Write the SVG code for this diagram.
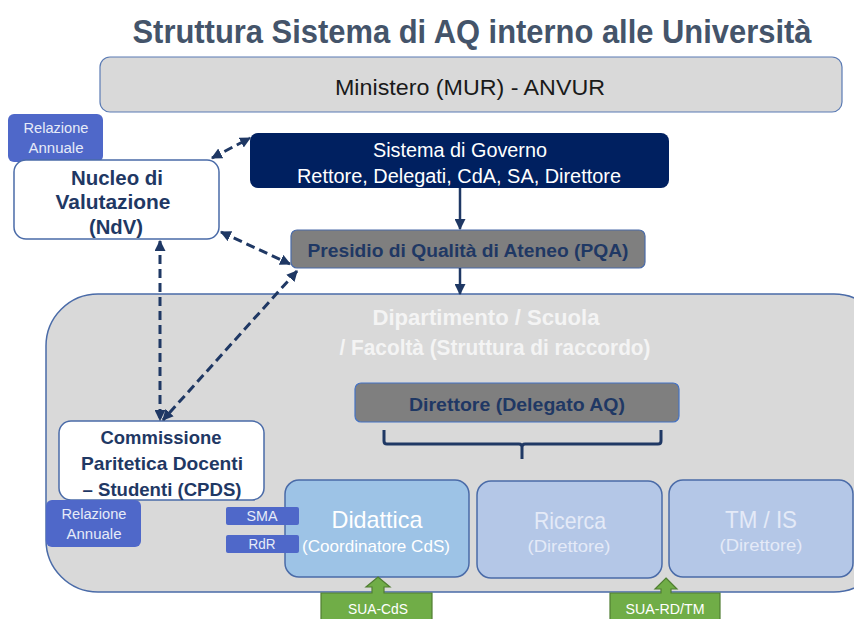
<svg xmlns="http://www.w3.org/2000/svg" width="854" height="619" viewBox="0 0 854 619">
<defs>
<marker id="ah" viewBox="0 0 10 10" markerUnits="userSpaceOnUse" markerWidth="11" markerHeight="11" refX="9" refY="5" orient="auto-start-reverse">
<path d="M0,0 L10,5 L0,10 z" fill="#1f3864"/>
</marker>
<style>
text{font-family:"Liberation Sans","Noto Sans",sans-serif;text-anchor:middle}
.navyb{fill:#1f3864;font-weight:bold}
.wt{fill:#ffffff}
.lt{fill:#e4eaf7}
.tag{fill:#4f68c9}
.tagt{fill:#e6ebf8;font-size:14px}
.dash{fill:none;stroke:#1f3864;stroke-width:3;stroke-dasharray:9 5}
.solid{fill:none;stroke:#1f3864;stroke-width:2.5}
.unit{stroke:#4a6ba8;stroke-width:1.5}
.green{fill:#70ad47;stroke:#507e32;stroke-width:1.2}
</style>
</defs>
<rect width="854" height="619" fill="#ffffff"/>

<text x="472" y="43" font-size="33" font-weight="bold" fill="#44546a" textLength="679" lengthAdjust="spacingAndGlyphs">Struttura Sistema di AQ interno alle Università</text>

<g id="ministero">
<rect x="100" y="57" width="742" height="55" rx="10" fill="#d9d9d9" stroke="#5b7bb4" stroke-width="1.2"/>
<text x="470" y="95" font-size="22" fill="#1a1a1a" textLength="270" lengthAdjust="spacingAndGlyphs">Ministero (MUR) - ANVUR</text>
</g>

<g id="dipartimento">
<rect x="46" y="294" width="840" height="298" rx="52" fill="#d9d9d9" stroke="#4a6ba8" stroke-width="1.5"/>
<text x="486" y="325" font-size="22" font-weight="bold" fill="#f4f4f4" textLength="227" lengthAdjust="spacingAndGlyphs">Dipartimento / Scuola</text>
<text x="495" y="355" font-size="22" font-weight="bold" fill="#f4f4f4" textLength="311" lengthAdjust="spacingAndGlyphs">/ Facoltà (Struttura di raccordo)</text>
</g>

<g id="relazione-ndv">
<rect class="tag" x="8" y="114" width="95" height="48" rx="6"/>
<text class="tagt" x="56" y="133" textLength="65" lengthAdjust="spacingAndGlyphs">Relazione</text>
<text class="tagt" x="56" y="153" textLength="55" lengthAdjust="spacingAndGlyphs">Annuale</text>
</g>

<g id="ndv">
<rect x="14" y="160" width="205" height="79" rx="12" fill="#ffffff" stroke="#4a6ba8" stroke-width="1.5"/>
<text class="navyb" x="117" y="185" font-size="20" textLength="92" lengthAdjust="spacingAndGlyphs">Nucleo di</text>
<text class="navyb" x="113" y="209" font-size="20" textLength="115" lengthAdjust="spacingAndGlyphs">Valutazione</text>
<text class="navyb" x="116" y="234" font-size="20" textLength="54" lengthAdjust="spacingAndGlyphs">(NdV)</text>
</g>

<g id="governo">
<rect x="250" y="133" width="419" height="55" rx="8" fill="#002060"/>
<text class="wt" x="460" y="157" font-size="20" textLength="174" lengthAdjust="spacingAndGlyphs">Sistema di Governo</text>
<text class="wt" x="459" y="183" font-size="20" textLength="324" lengthAdjust="spacingAndGlyphs">Rettore, Delegati, CdA, SA, Direttore</text>
</g>

<g id="pqa">
<rect x="291" y="230" width="354" height="38" rx="6" fill="#7f7f7f" stroke="#4a6ba8" stroke-width="1.2"/>
<text class="navyb" x="468" y="257" font-size="18" textLength="321" lengthAdjust="spacingAndGlyphs">Presidio di Qualità di Ateneo (PQA)</text>
</g>

<g id="direttore">
<rect x="355" y="383" width="324" height="39" rx="6" fill="#7f7f7f" stroke="#4472c4" stroke-width="1.2"/>
<text class="navyb" x="517" y="411" font-size="18" textLength="216" lengthAdjust="spacingAndGlyphs">Direttore (Delegato AQ)</text>
<path d="M384,430 L384,441 Q384,444 387,444 L519,444 Q522,444 522,447 L522,459 M522,447 Q522,444 525,444 L658,444 Q661,444 661,441 L661,430" fill="none" stroke="#1f3864" stroke-width="3"/>
</g>

<g id="cpds">
<rect x="59" y="421" width="205" height="79" rx="12" fill="#ffffff" stroke="#4a6ba8" stroke-width="1.5"/>
<text class="navyb" x="161" y="444" font-size="19" textLength="121" lengthAdjust="spacingAndGlyphs">Commissione</text>
<text class="navyb" x="162" y="470" font-size="19" textLength="162" lengthAdjust="spacingAndGlyphs">Paritetica Docenti</text>
<text class="navyb" x="162" y="496" font-size="19" textLength="159" lengthAdjust="spacingAndGlyphs">– Studenti (CPDS)</text>
</g>

<g id="relazione-cpds">
<rect class="tag" x="46" y="500" width="95" height="47" rx="6"/>
<text class="tagt" x="94" y="519" textLength="65" lengthAdjust="spacingAndGlyphs">Relazione</text>
<text class="tagt" x="94" y="539" textLength="55" lengthAdjust="spacingAndGlyphs">Annuale</text>
</g>

<g id="didattica">
<rect x="285" y="480" width="184" height="97" rx="14" fill="#9dc3e6" class="unit"/>
<text class="wt" x="377" y="528" font-size="24" textLength="91" lengthAdjust="spacingAndGlyphs">Didattica</text>
<text class="wt" x="376" y="552" font-size="17" textLength="148" lengthAdjust="spacingAndGlyphs">(Coordinatore CdS)</text>
</g>

<g id="sma">
<rect class="tag" x="226" y="507" width="73" height="18" rx="2"/>
<text class="tagt" x="262" y="521" textLength="31" lengthAdjust="spacingAndGlyphs">SMA</text>
</g>
<g id="rdr">
<rect class="tag" x="226" y="535" width="73" height="18" rx="2"/>
<text class="tagt" x="262" y="549" textLength="27" lengthAdjust="spacingAndGlyphs">RdR</text>
</g>

<g id="ricerca">
<rect x="477" y="481" width="185" height="97" rx="14" fill="#b4c7e7" class="unit"/>
<text class="lt" x="570" y="529" font-size="24" textLength="72" lengthAdjust="spacingAndGlyphs">Ricerca</text>
<text class="lt" x="569" y="552" font-size="17" textLength="83" lengthAdjust="spacingAndGlyphs">(Direttore)</text>
</g>

<g id="tmis">
<rect x="669" y="480" width="184" height="97" rx="14" fill="#b4c7e7" class="unit"/>
<text class="lt" x="761" y="528" font-size="24" textLength="72" lengthAdjust="spacingAndGlyphs">TM / IS</text>
<text class="lt" x="761" y="551" font-size="17" textLength="83" lengthAdjust="spacingAndGlyphs">(Direttore)</text>
</g>

<g id="sua-cds">
<path class="green" d="M378,577 L390,587 L384,587 L384,593 L432,593 L432,622 L321,622 L321,593 L372,593 L372,587 L366,587 Z"/>
<text class="wt" x="378" y="614" font-size="15" textLength="60" lengthAdjust="spacingAndGlyphs">SUA-CdS</text>
</g>

<g id="sua-rdtm">
<path class="green" d="M666,578 L677,589 L671,589 L671,593 L720,593 L720,622 L610,622 L610,593 L661,593 L661,589 L655,589 Z"/>
<text class="wt" x="665" y="614" font-size="15" textLength="79" lengthAdjust="spacingAndGlyphs">SUA-RD/TM</text>
</g>

<g id="connectors">
<line class="solid" x1="460" y1="188" x2="460" y2="229" marker-end="url(#ah)"/>
<line class="solid" x1="460" y1="268" x2="460" y2="294" marker-end="url(#ah)"/>
<line class="dash" x1="212" y1="158" x2="250" y2="138" marker-start="url(#ah)" marker-end="url(#ah)"/>
<line class="dash" x1="221" y1="232" x2="290" y2="264" marker-start="url(#ah)" marker-end="url(#ah)"/>
<line class="dash" x1="160" y1="241" x2="160" y2="420" marker-start="url(#ah)" marker-end="url(#ah)"/>
<line class="dash" x1="297" y1="271" x2="163" y2="420" marker-start="url(#ah)" marker-end="url(#ah)"/>
</g>
</svg>
